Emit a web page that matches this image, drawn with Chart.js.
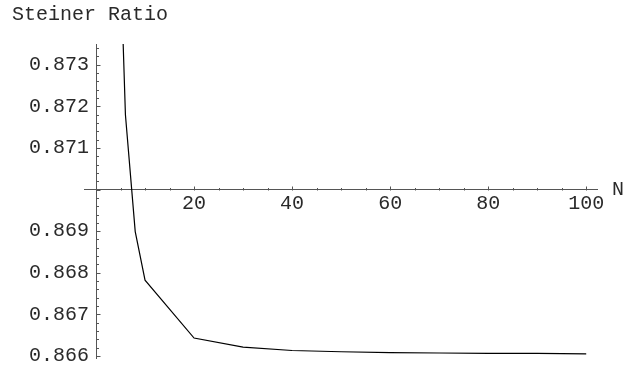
<!DOCTYPE html>
<html>
<head>
<meta charset="utf-8">
<script src="https://cdn.jsdelivr.net/npm/chart.js@4"></script>
<style>
  html, body { margin: 0; padding: 0; background: #fff; }
  #wrap { width: 626px; height: 368px; }
</style>
</head>
<body>
<div id="wrap"><canvas id="chart" width="626" height="368"></canvas></div>
<script>
// Steiner ratio vs N
const N_VALUES = [5, 6, 8, 10, 20, 30, 40, 50, 60, 70, 80, 90, 100];
const RATIO = [0.8755, 0.8718, 0.86899, 0.86782, 0.86643, 0.86621, 0.86613, 0.86610, 0.86608, 0.86607, 0.86606, 0.86606, 0.86605];

const X_TICKS = [20, 40, 60, 80, 100];
const Y_TICKS = [0.866, 0.867, 0.868, 0.869, 0.871, 0.872, 0.873];
const AXIS_CROSS_Y = 0.870;
const Y_MIN = 0.86595, Y_MAX = 0.8735;

const FONT = "'Liberation Mono', 'DejaVu Sans Mono', monospace";
const INK = "#2a2a2a";
const AXIS = "#555";

// Mathematica-style tick marks, drawn on the side opposite the labels
const axisDecor = {
  id: "axisDecor",
  afterDraw(chart) {
    const { ctx, scales: { x, y } } = chart;
    const x0 = Math.round(x.getPixelForValue(0)) + 0.5;
    const y0 = Math.round(y.getPixelForValue(AXIS_CROSS_Y)) + 0.5;
    ctx.save();
    ctx.strokeStyle = AXIS;
    ctx.lineWidth = 1;
    ctx.beginPath();
    for (let v = 5; v <= 100; v += 5) {
      const px = Math.round(x.getPixelForValue(v)) + 0.5;
      const len = v % 20 === 0 ? 4 : 2.5;
      ctx.moveTo(px, y0);
      ctx.lineTo(px, y0 - len);
    }
    for (let i = 0; i <= 37; i++) {
      const v = 0.866 + i * 0.0002;
      if (v > y.max) break;
      const py = Math.round(y.getPixelForValue(v)) + 0.5;
      const len = i % 5 === 0 ? 4 : 2.5;
      ctx.moveTo(x0, py);
      ctx.lineTo(x0 + len, py);
    }
    ctx.stroke();

    ctx.fillStyle = INK;
    ctx.textBaseline = "middle";
    ctx.textAlign = "left";
    ctx.font = "20px " + FONT;
    ctx.fillText("Steiner Ratio", 12, 15);
    ctx.fillText("N", x.right + 15, y0 - 1);
    ctx.restore();
  }
};

new Chart(document.getElementById("chart"), {
  type: "line",
  data: {
    datasets: [{
      data: N_VALUES.map((n, i) => ({ x: n, y: RATIO[i] })),
      yAxisID: "y",
      borderColor: "#000",
      borderWidth: 1.2,
      pointRadius: 0,
      tension: 0,
      fill: false
    }]
  },
  options: {
    responsive: false,
    animation: false,
    layout: { padding: { left: 84, right: 29, top: 44, bottom: 10 } },
    plugins: { legend: { display: false }, tooltip: { enabled: false } },
    scales: {
      x: {
        type: "linear",
        position: { y: AXIS_CROSS_Y },
        min: -2.45,
        max: 102.2,
        afterFit(s) { s.height = 0; },
        afterBuildTicks(s) { s.ticks = X_TICKS.map(v => ({ value: v })); },
        grid: { display: false, drawTicks: false },
        border: { display: true, color: AXIS, width: 1 },
        ticks: {
          padding: 2,
          color: INK,
          font: { family: FONT, size: 20 },
          maxRotation: 0,
          callback: v => String(v)
        }
      },
      y: {
        type: "linear",
        position: { x: 0 },
        min: Y_MIN,
        max: Y_MAX,
        afterFit(s) { s.width = 0; },
        grid: { display: false, drawTicks: false },
        border: { display: true, color: AXIS, width: 1 },
        ticks: { display: false }
      },
      // label-only scale: mirrored so the labels are not clipped to its zero-width box
      yText: {
        type: "linear",
        position: "left",
        min: Y_MIN,
        max: Y_MAX,
        afterFit(s) { s.width = 0; },
        afterBuildTicks(s) { s.ticks = Y_TICKS.map(v => ({ value: v })); },
        grid: { display: false, drawTicks: false },
        border: { display: false },
        ticks: {
          mirror: true,
          padding: -55,
          color: INK,
          font: { family: FONT, size: 20 },
          callback: v => v.toFixed(3)
        }
      }
    }
  },
  plugins: [axisDecor]
});
</script>
</body>
</html>
